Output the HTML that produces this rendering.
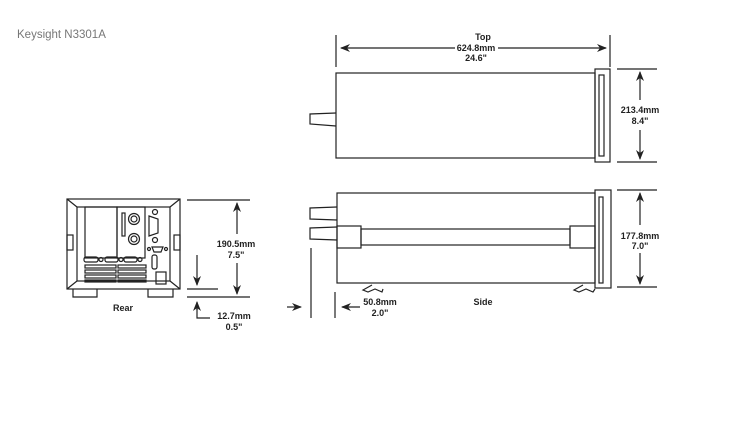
<!DOCTYPE html>
<html><head><meta charset="utf-8"><style>
body{margin:0;background:#fff;width:750px;height:438px;overflow:hidden}
svg{display:block}
text{font-family:"Liberation Sans",Arial,sans-serif;fill:#222}
.d{font-size:9px;font-weight:bold;text-anchor:middle}
</style></head><body>
<svg width="750" height="438" viewBox="0 0 750 438" xmlns="http://www.w3.org/2000/svg">
<defs><marker id="a" markerWidth="10" markerHeight="8" refX="9" refY="4" orient="auto" markerUnits="userSpaceOnUse"><path d="M0,0 L10,4 L0,8 L3,4z" fill="#222"/></marker></defs>
<text x="17" y="38" style="font-size:11.5px;fill:#777">Keysight N3301A</text>
<g fill="none" stroke="#222" stroke-width="1.2">
<rect x="336" y="73" width="259" height="85"/>
<rect x="595" y="69" width="15" height="93"/>
<rect x="599" y="75" width="5" height="81"/>
<path d="M336,113 L310,114 L310,124 L336,126"/>
<line x1="336" y1="35" x2="336" y2="67"/><line x1="610" y1="35" x2="610" y2="67"/>
<line x1="455" y1="48" x2="341" y2="48" marker-end="url(#a)"/>
<line x1="498" y1="48" x2="606" y2="48" marker-end="url(#a)"/>
<line x1="617" y1="69" x2="657" y2="69"/><line x1="617" y1="162" x2="657" y2="162"/>
<line x1="640" y1="100" x2="640" y2="72" marker-end="url(#a)"/>
<line x1="640" y1="130" x2="640" y2="159" marker-end="url(#a)"/>
<rect x="337" y="193" width="258" height="90"/>
<rect x="595" y="190" width="16" height="98"/>
<rect x="599" y="197" width="4" height="86"/>
<rect x="337" y="226" width="24" height="22"/>
<rect x="570" y="226" width="25" height="22"/>
<rect x="361" y="229" width="209" height="16"/>
<path d="M337,207 L310,208 L310,219 L337,220"/>
<path d="M337,227 L310,228 L310,239 L337,240"/>
<path d="M372,285 L363,290 L368,292 L375,289 L382,292 L383,289"/>
<path d="M583,285 L574,290 L579,292 L586,289 L593,292 L595,289"/>
<line x1="617" y1="190" x2="657" y2="190"/><line x1="617" y1="287" x2="657" y2="287"/>
<line x1="640" y1="225" x2="640" y2="193" marker-end="url(#a)"/>
<line x1="640" y1="253" x2="640" y2="284" marker-end="url(#a)"/>
<line x1="311" y1="248" x2="311" y2="318"/><line x1="335" y1="292" x2="335" y2="318"/>
<line x1="287" y1="307" x2="301" y2="307" marker-end="url(#a)"/>
<line x1="360" y1="307" x2="342" y2="307" marker-end="url(#a)"/>
<rect x="67" y="199" width="113" height="90"/>
<rect x="77" y="207" width="93" height="74"/>
<path d="M67,199 L77,207 M180,199 L170,207 M67,289 L77,281 M180,289 L170,281"/>
<rect x="67" y="235" width="6" height="15"/><rect x="174" y="235" width="6" height="15"/>
<path d="M73,289 L73,297 L97,297 L97,289 M148,289 L148,297 L173,297 L173,289"/>
<rect x="85" y="207" width="32" height="51"/>
<rect x="117" y="207" width="28" height="51"/>
<rect x="122" y="213" width="3" height="23"/>
<circle cx="134" cy="219" r="5.5"/><circle cx="134" cy="219" r="3"/>
<circle cx="134" cy="239" r="5.5"/><circle cx="134" cy="239" r="3"/>
<circle cx="155" cy="212" r="2.5"/>
<path d="M149,216 L158,219 L158,233 L149,236z"/>
<circle cx="155" cy="240" r="2.5"/>
<path d="M152,247 L163,247 L161,252 L154,252z"/><circle cx="149" cy="249" r="1.5"/><circle cx="166" cy="249" r="1.5"/>
<rect x="152" y="255" width="5" height="14" rx="2"/>
<rect x="156" y="272" width="10" height="12"/>
<rect x="84" y="257" width="14" height="5" rx="2"/><rect x="105" y="257" width="13" height="5" rx="2"/><rect x="124" y="257" width="13" height="5" rx="2"/>
<circle cx="101" cy="259.5" r="2"/><circle cx="121" cy="259.5" r="2"/><circle cx="140" cy="259.5" r="2"/>
<rect x="85" y="265" width="31" height="3"/><rect x="85" y="270" width="31" height="3"/><rect x="85" y="275" width="31" height="3"/><rect x="85" y="280" width="31" height="2"/>
<rect x="118" y="265" width="28" height="3"/><rect x="118" y="270" width="28" height="3"/><rect x="118" y="275" width="28" height="3"/><rect x="118" y="280" width="28" height="2"/>
<line x1="187" y1="200" x2="250" y2="200"/><line x1="187" y1="289" x2="218" y2="289"/><line x1="187" y1="297" x2="250" y2="297"/>
<line x1="237" y1="234" x2="237" y2="203" marker-end="url(#a)"/>
<line x1="237" y1="263" x2="237" y2="294" marker-end="url(#a)"/>
<line x1="197" y1="255" x2="197" y2="285" marker-end="url(#a)"/>
<path d="M210,318 L197,318 L197,305"/>
<line x1="197" y1="310" x2="197" y2="302" marker-end="url(#a)"/>
</g>
<text x="483" y="40" class="d">Top</text>
<text x="476" y="51" class="d">624.8mm</text>
<text x="476" y="61" class="d">24.6"</text>
<text x="640" y="113" class="d">213.4mm</text>
<text x="640" y="124" class="d">8.4"</text>
<text x="640" y="239" class="d">177.8mm</text>
<text x="640" y="249" class="d">7.0"</text>
<text x="380" y="305" class="d">50.8mm</text>
<text x="380" y="316" class="d">2.0"</text>
<text x="483" y="305" class="d">Side</text>
<text x="236" y="247" class="d">190.5mm</text>
<text x="236" y="258" class="d">7.5"</text>
<text x="123" y="311" class="d">Rear</text>
<text x="234" y="319" class="d">12.7mm</text>
<text x="234" y="330" class="d">0.5"</text>
</svg>
</body></html>
